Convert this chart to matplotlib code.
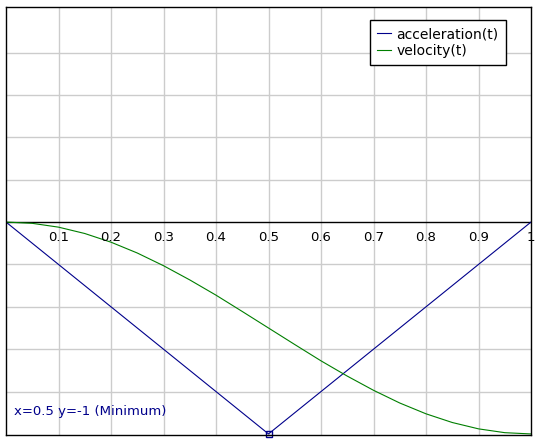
import matplotlib
matplotlib.use("Agg")
import matplotlib.pyplot as plt

t = [0.0, 0.05, 0.1, 0.15, 0.2, 0.25, 0.3, 0.35, 0.4, 0.45, 0.5,
     0.55, 0.6, 0.65, 0.7, 0.75, 0.8, 0.85, 0.9, 0.95, 1.0]
acceleration = [0.0, -0.1, -0.2, -0.3, -0.4, -0.5, -0.6, -0.7, -0.8, -0.9, -1.0,
                -0.9, -0.8, -0.7, -0.6, -0.5, -0.4, -0.3, -0.2, -0.1, 0.0]
velocity = [0.0, -0.006, -0.024, -0.054, -0.095, -0.146, -0.206, -0.273, -0.345, -0.422, -0.5,
            -0.578, -0.655, -0.727, -0.794, -0.854, -0.905, -0.946, -0.976, -0.994, -1.0]
xticks = [0.1, 0.2, 0.3, 0.4, 0.5, 0.6, 0.7, 0.8, 0.9, 1.0]
xlabels = ["0.1", "0.2", "0.3", "0.4", "0.5", "0.6", "0.7", "0.8", "0.9", "1"]

fig = plt.figure(figsize=(5.36, 4.42), dpi=100)
ax = fig.add_axes([6/536, 7/442, 525/536, 428/442])
ax.set_xlim(0, 1)
ax.set_ylim(-1.005, 1.015)

for x in xticks[:-1]:
    ax.axvline(x, color="#cccccc", lw=1, zorder=0)
for y in [-0.8, -0.6, -0.4, -0.2, 0.2, 0.4, 0.6, 0.8]:
    ax.axhline(y, color="#cccccc", lw=1, zorder=0)
ax.axhline(0, color="black", lw=1, zorder=1)

ax.plot(t, acceleration, color="#00008b", lw=0.8, label="acceleration(t)")
ax.plot(t, velocity, color="#007f00", lw=0.8, label="velocity(t)")
ax.plot([0.5], [-1.0], marker="s", mfc="none", mec="#00008b", ms=4, clip_on=False)

for x, lab in zip(xticks, xlabels):
    ax.text(x, -0.04, lab, ha="center", va="top", fontsize=9.5, clip_on=False)

ax.set_xticks([])
ax.set_yticks([])
for s in ax.spines.values():
    s.set_linewidth(1)

ax.text(0.015, -0.91, "x=0.5 y=-1 (Minimum)", color="#00008b", fontsize=9.5)

leg = ax.legend(loc="upper right", fontsize=10, fancybox=False, framealpha=1,
                edgecolor="black", handlelength=1.0, borderpad=0.5,
                handletextpad=0.4, labelspacing=0.2,
                bbox_to_anchor=(0.965, 0.985))
leg.get_frame().set_linewidth(1)

plt.savefig("out.png")
